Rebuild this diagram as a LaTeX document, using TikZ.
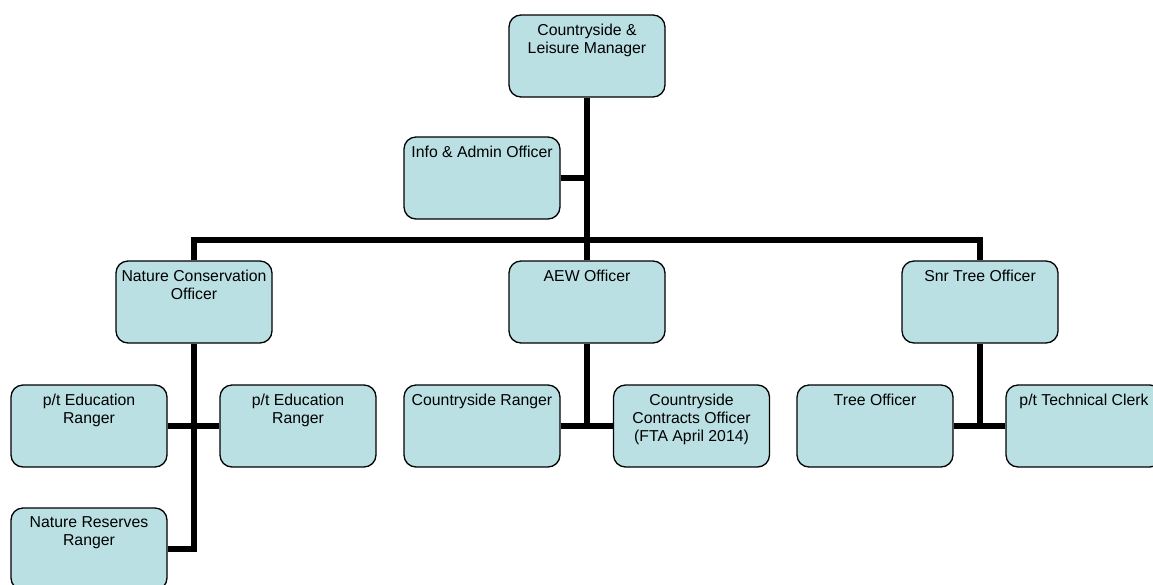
\documentclass[tikz,border=0pt]{standalone}
\usepackage{fontspec}
\setmainfont{Liberation Sans}
\usepackage{tikz}
\usetikzlibrary{positioning}
\definecolor{unitfill}{HTML}{BAE0E3}
\newcommand{\unittext}[1]{\parbox[t][64pt][t]{154pt}{\centering #1}}

\begin{document}
\begin{tikzpicture}[x=1pt,y=-1pt,
    unit/.style={draw=black,line width=1.3pt,fill=unitfill,rounded corners=12pt,
      inner xsep=1pt,inner ysep=9pt,font=\fontsize{15.8}{18}\selectfont},
    link/.style={line width=5.5pt,black}]
    \useasboundingbox (0,0) rectangle (1153,584);
    % posti
    \node[unit] (mgr) at (587,56) {\unittext{Countryside \&\\Leisure Manager}};
    \node[unit] (info) at (482,178) {\unittext{Info \& Admin Officer}};
    \node[unit] (nco) at (194,302) {\unittext{Nature Conservation\\Officer}};
    \node[unit] (aew) at (587,302) {\unittext{AEW Officer}};
    \node[unit] (snr) at (980,302) {\unittext{Snr Tree Officer}};
    \node[unit] (edl) at (89,426) {\unittext{p/t Education\\Ranger}};
    \node[unit] (edr) at (298,426) {\unittext{p/t Education\\Ranger}};
    \node[unit] (cr) at (482,426) {\unittext{Countryside Ranger}};
    \node[unit] (cco) at (691.5,426) {\unittext{Countryside\\Contracts Officer\\(FTA April 2014)}};
    \node[unit] (tree) at (875,426) {\unittext{Tree Officer}};
    \node[unit] (clerk) at (1084,426) {\unittext{p/t Technical Clerk}};
    \node[unit] (nrr) at (89,549) {\unittext{Nature Reserves\\Ranger}};
    \coordinate (bus) at (587,240);
    % collegamenti
    \draw[link] (mgr.south) -- (aew.north);
    \draw[link] (info.east) -- (info.east -| mgr.south);
    \draw[link] (nco.north) |- (bus) -| (snr.north);
    \draw[link] (nco.south) |- (nrr.east);
    \draw[link] (edl.east) -- (edr.west);
    \draw[link] (aew.south) -- (aew.south |- cr.east);
    \draw[link] (cr.east) -- (cco.west);
    \draw[link] (snr.south) -- (snr.south |- tree.east);
    \draw[link] (tree.east) -- (clerk.west);
\end{tikzpicture}
\end{document}
